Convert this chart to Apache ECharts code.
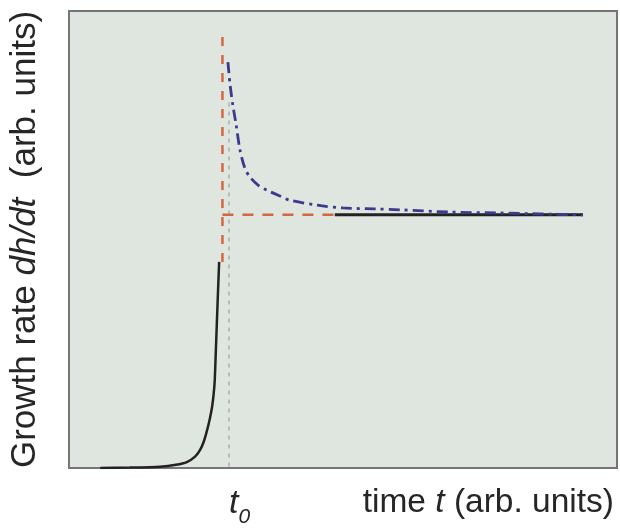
<!DOCTYPE html>
<html>
<head>
<meta charset="utf-8">
<script src="https://cdn.jsdelivr.net/npm/echarts@6/dist/echarts.min.js"></script>
<style>html,body{margin:0;padding:0;background:#fff}#c{width:620px;height:528px}</style>
</head>
<body>
<div id="c"></div>
<script>
// Axis domain (arbitrary units)
var xRange = [0, 100];
var yRange = [0, 100];

// t0 marker position
var t0 = 29.2;
var t0DottedTop = 80;

// Exponential growth before t0 (black solid)
var growthX = [5.7, 11.1, 16.6, 19.5, 21.5, 23.0, 23.9, 24.6, 25.2, 25.7, 26.1, 26.4, 26.6, 26.8, 27.0, 27.2, 27.4];
var growthY = [0.0, 0.1, 0.3, 0.7, 1.3, 2.5, 3.9, 5.8, 8.3, 10.8, 13.3, 16.2, 19.3, 25.8, 32.4, 38.9, 45.1];

// Red dashed construction lines
var redVertX = [28.0, 28.0];
var redVertY = [94.3, 45.1];
var redHorizX = [28.0, 48.5];
var redHorizY = [55.4, 55.4];

// Steady-state growth (black solid)
var steadyX = [48.5, 93.8];
var steadyY = [55.4, 55.4];

// Relaxation after t0 (blue dash-dot)
var relaxX = [29.0, 29.4, 29.9, 30.5, 31.2, 32.1, 33.0, 34.5, 36.1, 38.5, 40.3, 45.3, 50.0, 55.8, 60.4, 69.5, 78.6, 85.9, 93.8];
var relaxY = [88.8, 83.8, 79.4, 75.1, 69.6, 65.6, 63.7, 61.9, 60.8, 59.5, 58.6, 57.5, 56.9, 56.7, 56.5, 56.0, 55.8, 55.6, 55.4];

function zip(xs, ys) { return xs.map(function (x, i) { return [x, ys[i]]; }); }

var chart = echarts.init(document.getElementById('c'));
var FONT = 'Liberation Sans, Arial, sans-serif';
var TXT = '#262626';
chart.setOption({
  animation: false,
  grid: {
    left: 69, top: 11, right: 3, bottom: 60, outerBoundsMode: 'none', containLabel: false,
    show: true, backgroundColor: '#dfe5df', borderColor: '#757575', borderWidth: 2
  },
  xAxis: {
    type: 'value', min: xRange[0], max: xRange[1],
    axisLine: { show: false }, axisTick: { show: false }, splitLine: { show: false },
    axisLabel: {
      show: true, customValues: [t0], margin: 19, align: 'left',
      formatter: function () { return '{t|t}{s|0}'; },
      rich: {
        t: { fontSize: 34, fontStyle: 'italic', fontFamily: FONT, color: TXT, lineHeight: 34 },
        s: { fontSize: 21, fontStyle: 'italic', fontFamily: FONT, color: TXT, lineHeight: 21, padding: [26, 0, 0, 0] }
      }
    },
    name: '{n|time }{i|t}{n| (arb. units)}',
    nameLocation: 'end', nameGap: -3,
    nameTextStyle: {
      align: 'right', verticalAlign: 'top', padding: [18, 0, 0, 0],
      rich: {
        n: { fontSize: 33.5, fontFamily: FONT, color: TXT },
        i: { fontSize: 33.5, fontFamily: FONT, fontStyle: 'italic', color: TXT }
      }
    }
  },
  yAxis: {
    type: 'value', min: yRange[0], max: yRange[1],
    axisLine: { show: false }, axisTick: { show: false }, splitLine: { show: false },
    axisLabel: { show: false },
    name: '{n|Growth rate }{i|dh/dt}{n|  (arb. units)}',
    nameLocation: 'middle', nameGap: 26, nameRotate: 90,
    nameTextStyle: {
      rich: {
        n: { fontSize: 35, fontFamily: FONT, color: TXT },
        i: { fontSize: 35, fontFamily: FONT, fontStyle: 'italic', color: TXT }
      }
    }
  },
  series: [
    {
      type: 'line', data: zip([t0, t0], [t0DottedTop, 0]), symbol: 'none', z: 1,
      lineStyle: { color: '#a9aeaa', width: 1.5, type: [4, 5] }
    },
    {
      type: 'line', data: zip(redVertX, redVertY), symbol: 'none', z: 2,
      lineStyle: { color: '#d4673f', width: 2.5, type: [9, 9] }
    },
    {
      type: 'line', data: zip(redHorizX, redHorizY), symbol: 'none', z: 2,
      lineStyle: { color: '#d4673f', width: 2.5, type: [11, 9] }
    },
    {
      type: 'line', data: zip(growthX, growthY), symbol: 'none', smooth: 0.2, z: 3,
      lineStyle: { color: '#222', width: 2.5 }
    },
    {
      type: 'line', data: zip(steadyX, steadyY), symbol: 'none', z: 3,
      lineStyle: { color: '#222', width: 3 }
    },
    {
      type: 'line', data: zip(relaxX, relaxY), symbol: 'none', smooth: 0.3, z: 4,
      lineStyle: { color: '#3b3b8e', width: 2.8, type: [11, 5, 3, 5] }
    }
  ]
});
</script>
</body>
</html>
